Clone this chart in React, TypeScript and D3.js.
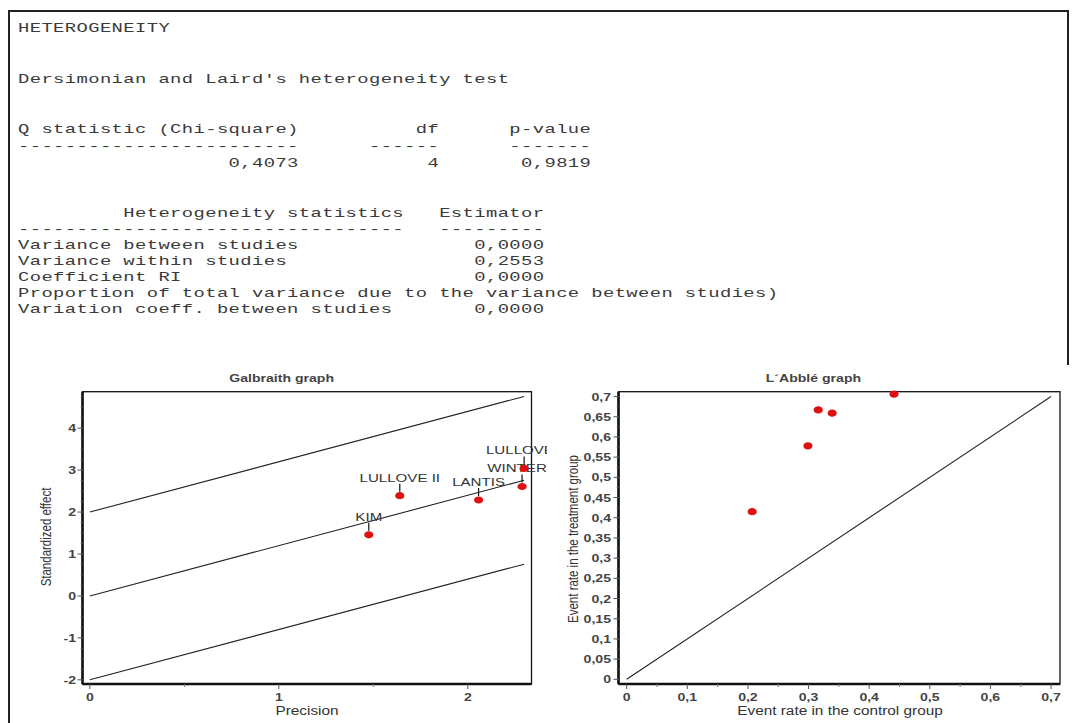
import React from "react";
import * as d3 from "d3";

// ---- report text ----
const reportTitle = "HETEROGENEITY";
const testTitle = "Dersimonian and Laird's heterogeneity test";
const qHeader = ["Q statistic (Chi-square)", "df", "p-value"];
const qValues = ["0,4073", "4", "0,9819"];
const hetHeader = ["Heterogeneity statistics", "Estimator"];
const hetLabels = [
  "Variance between studies",
  "Variance within studies",
  "Coefficient RI",
  "Proportion of total variance due to the variance between studies)",
  "Variation coeff. between studies",
];
const hetValues = ["0,0000", "0,2553", "0,0000", "", "0,0000"];

// ---- Galbraith graph ----
const studies = ["KIM", "LULLOVE II", "LANTIS", "WINTERS", "LULLOVE I"];
const precision = [1.476, 1.64, 2.057, 2.287, 2.298];
const stdEffect = [1.458, 2.39, 2.287, 2.61, 3.04];
const galSlope = 1.2;
const galBands = [-2, 0, 2];
const galXTicks = [0, 1, 2];
const galXMinor = [0.5, 1.5];
const galYTicks = [-2, -1, 0, 1, 2, 3, 4];

// ---- L'Abbé graph ----
const controlRate = [0.207, 0.299, 0.316, 0.339, 0.441];
const treatRate = [0.415, 0.578, 0.667, 0.659, 0.706];
const labXTicks = [0, 0.1, 0.2, 0.3, 0.4, 0.5, 0.6, 0.7];
const labXMinor = [0.05, 0.15, 0.25, 0.35, 0.45, 0.55, 0.65];
const labYTicks = [0, 0.05, 0.1, 0.15, 0.2, 0.25, 0.3, 0.35, 0.4, 0.45, 0.5, 0.55, 0.6, 0.65, 0.7];

const SX = 1.28; // the screenshot is stretched horizontally
const CW = 11.7; // monospace cell width
const MONO_SIZE = 13;
const MONO_SX = 1.45;
const RED = "#dd1111";

const fmt = (v: number) => String(+v.toFixed(2)).replace(".", ",");

function SText({ x, y, anchor = "middle", size = 11, weight = 400, fill = "#333", rotate = 0, children }: any) {
  return (
    <text
      transform={`translate(${x},${y}) scale(${SX},1) rotate(${rotate})`}
      textAnchor={anchor}
      fontFamily="'Liberation Sans', Arial, sans-serif"
      fontSize={size}
      fontWeight={weight}
      fill={fill}
    >
      {children}
    </text>
  );
}

function MonoLine({ y, text }: { y: number; text: string }) {
  return (
    <text
      transform={`translate(18,${y}) scale(${MONO_SX},1)`}
      fontFamily="'Liberation Mono', 'DejaVu Sans Mono', monospace"
      fontSize={MONO_SIZE}
      letterSpacing={CW / MONO_SX - 0.6 * MONO_SIZE}
      fill="#3a3a3a"
      style={{ whiteSpace: "pre" }}
    >
      {text}
    </text>
  );
}

function Report() {
  const lines: [number, string][] = [
    [32, reportTitle],
    [83, testTitle],
    [133, qHeader[0].padEnd(34) + qHeader[1].padEnd(8) + qHeader[2]],
    [150, "-".repeat(24).padEnd(30) + "-".repeat(6).padEnd(12) + "-".repeat(7)],
    [167, qValues[0].padStart(24) + qValues[1].padStart(12) + qValues[2].padStart(13)],
    [217, " ".repeat(9) + hetHeader[0] + "   " + hetHeader[1]],
    [233, "-".repeat(33) + "   " + "-".repeat(9)],
  ];
  hetLabels.forEach((l, i) => {
    lines.push([249 + i * 16, hetValues[i] ? l.padEnd(39) + hetValues[i].padStart(6) : l]);
  });
  return (
    <g>
      {lines.map(([y, t], i) => (
        <MonoLine key={i} y={y} text={t} />
      ))}
    </g>
  );
}

function Galbraith() {
  const x = d3.scaleLinear().domain([-0.039, 2.337]).range([82.5, 531.5]);
  const y = d3.scaleLinear().domain([-2.1, 4.87]).range([684, 391.7]);
  const [x0, x1] = x.range();
  const [yb, yt] = y.range();
  const xEnd = d3.max(precision) as number;
  const band = d3
    .line<number>()
    .x((d) => x(d));
  const minorY = d3.range(-2, 4.8, 0.25);
  return (
    <g>
      <SText x={281.6} y={382} size={11} weight={700} fill="#444">Galbraith graph</SText>
      <rect x={x0} y={yt} width={x1 - x0} height={yb - yt} fill="none" stroke="#111" strokeWidth={1.3} />
      <line x1={x0} x2={x0} y1={yt} y2={yb} stroke="#111" strokeWidth={2.6} />
      <line x1={x0} x2={x1} y1={yb} y2={yb} stroke="#111" strokeWidth={2.6} />
      {galBands.map((b) => (
        <path
          key={b}
          d={band.y((d) => y(b + galSlope * d))([0, xEnd]) || ""}
          stroke="#222"
          strokeWidth={1.1}
          fill="none"
        />
      ))}
      {minorY.map((v) => (
        <line key={"m" + v} x1={x0 - 2} x2={x0} y1={y(v)} y2={y(v)} stroke="#777" strokeWidth={0.8} />
      ))}
      {galYTicks.map((v) => (
        <g key={"y" + v}>
          <line x1={x0 - 5} x2={x0} y1={y(v)} y2={y(v)} stroke="#555" strokeWidth={1} />
          <SText x={76} y={y(v) + 4} anchor="end" size={11} weight={700} fill="#444">{fmt(v)}</SText>
        </g>
      ))}
      {galXTicks.map((v) => (
        <g key={"x" + v}>
          <line x1={x(v)} x2={x(v)} y1={yb} y2={yb + 5} stroke="#555" strokeWidth={1} />
          <SText x={x(v)} y={701} size={11} weight={700} fill="#444">{fmt(v)}</SText>
        </g>
      ))}
      {galXMinor.map((v) => (
        <line key={"xm" + v} x1={x(v)} x2={x(v)} y1={yb} y2={yb + 3} stroke="#777" strokeWidth={1} />
      ))}
      <SText x={307} y={715} size={12} fill="#333">Precision</SText>
      <SText x={46 + 4 * SX} y={537} size={11.5} fill="#333" rotate={-90}>Standardized effect</SText>
      <defs>
        <clipPath id="galClip">
          <rect x={0} y={360} width={547} height={340} />
        </clipPath>
      </defs>
      <g clipPath="url(#galClip)">
        {studies.map((s, i) => {
          const px = x(precision[i]);
          const py = y(stdEffect[i]);
          return (
            <g key={s}>
              <line x1={px} x2={px} y1={py - 4} y2={py - 12} stroke="#111" strokeWidth={1.2} />
              <SText x={px} y={py - 14} size={11.8} fill="#333">{s}</SText>
            </g>
          );
        })}
      </g>
      {studies.map((s, i) => (
        <ellipse key={"p" + s} cx={x(precision[i])} cy={y(stdEffect[i])} rx={4.6} ry={3.6} fill={RED} />
      ))}
    </g>
  );
}

function Labbe() {
  const x = d3.scaleLinear().domain([-0.0135, 0.7148]).range([618.5, 1060]);
  const y = d3.scaleLinear().domain([-0.0116, 0.712]).range([684, 391.7]);
  const [x0, x1] = x.range();
  const [yb, yt] = y.range();
  const diag = d3
    .line<number>()
    .x((d) => x(d))
    .y((d) => y(d));
  const minorY = d3.range(0, 0.71, 0.025);
  return (
    <g>
      <SText x={813.4} y={382} size={11} weight={700} fill="#444">L´Abblé graph</SText>
      <rect x={x0} y={yt} width={x1 - x0} height={yb - yt} fill="none" stroke="#111" strokeWidth={1.3} />
      <line x1={x0} x2={x0} y1={yt} y2={yb} stroke="#111" strokeWidth={2.6} />
      <line x1={x0} x2={x1} y1={yb} y2={yb} stroke="#111" strokeWidth={2.6} />
      <path d={diag([0, 0.7]) || ""} stroke="#222" strokeWidth={1.1} fill="none" />
      {minorY.map((v) => (
        <line key={"m" + v} x1={x0 - 2} x2={x0} y1={y(v)} y2={y(v)} stroke="#777" strokeWidth={0.8} />
      ))}
      {labYTicks.map((v) => (
        <g key={"y" + v}>
          <line x1={x0 - 5} x2={x0} y1={y(v)} y2={y(v)} stroke="#555" strokeWidth={1} />
          <SText x={611} y={y(v) + 4} anchor="end" size={11} weight={700} fill="#444">{fmt(v)}</SText>
        </g>
      ))}
      {labXTicks.map((v) => (
        <g key={"x" + v}>
          <line x1={x(v)} x2={x(v)} y1={yb} y2={yb + 5} stroke="#555" strokeWidth={1} />
          <SText x={x(v)} y={701} size={11} weight={700} fill="#444">{fmt(v)}</SText>
        </g>
      ))}
      {labXMinor.map((v) => (
        <line key={"xm" + v} x1={x(v)} x2={x(v)} y1={yb} y2={yb + 3} stroke="#777" strokeWidth={1} />
      ))}
      <SText x={840} y={715} size={12} fill="#333">Event rate in the control group</SText>
      <SText x={572.6 + 4 * SX} y={539} size={11.5} fill="#333" rotate={-90}>Event rate in the treatment group</SText>
      {controlRate.map((c, i) => (
        <ellipse key={i} cx={x(c)} cy={y(treatRate[i])} rx={4.6} ry={3.6} fill={RED} />
      ))}
    </g>
  );
}

export default function App() {
  return (
    <svg
      width={1072}
      height={723}
      style={{ position: "absolute", left: 0, top: 0, background: "#fff" }}
    >
      <rect width={1072} height={723} fill="#fff" />
      <path d="M9,723V11H1068V365" fill="none" stroke="#222" strokeWidth={2} />
      <Report />
      <Galbraith />
      <Labbe />
    </svg>
  );
}
